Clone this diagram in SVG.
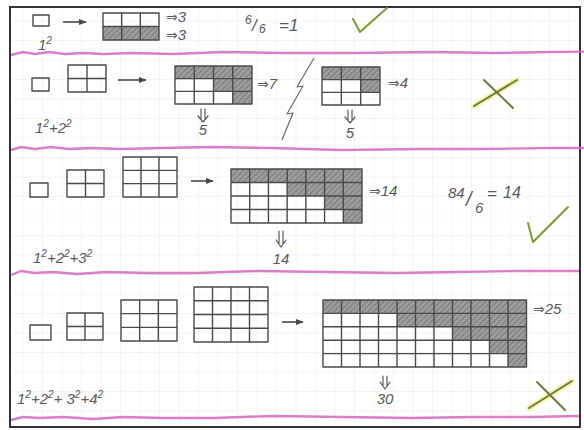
<svg xmlns="http://www.w3.org/2000/svg" width="584" height="430" viewBox="0 0 584 430">
<style>
.t{font-family:"Liberation Sans","DejaVu Sans",sans-serif;font-style:italic;fill:#5a5a5a;font-size:15px}
.a{font-family:"DejaVu Sans",sans-serif;fill:#5a5a5a;font-size:14px}
.sup{font-size:10px}
.g{fill:none;stroke:#4a4a4a;stroke-width:1.4;stroke-linejoin:round}
.sh{fill:url(#hatch)}
.pink{fill:none;stroke:#d468bd;stroke-width:2.4;stroke-opacity:0.85;stroke-linejoin:round}
.ok{fill:none;stroke:#7f9d2e;stroke-width:2;stroke-linecap:round;stroke-linejoin:round}
.glow{fill:none;stroke:#eef08a;stroke-width:6;stroke-linecap:round;stroke-opacity:0.7}
.no{fill:none;stroke:#6f7a3a;stroke-width:2;stroke-linecap:round}
.conn{fill:none;stroke:#4a4a4a;stroke-width:1.6}
.dd{fill:none;stroke:#5a5a5a;stroke-width:1.2;stroke-linecap:round;stroke-linejoin:round}
</style>
<defs>
<pattern id="hatch" patternUnits="userSpaceOnUse" width="4" height="4" patternTransform="rotate(45)">
<rect width="4" height="4" fill="#9c9c9c"/>
<line x1="0" y1="0" x2="0" y2="4" stroke="#6a6a6a" stroke-width="1.3"/>
</pattern>
<pattern id="paper" patternUnits="userSpaceOnUse" width="19.5" height="19.5" x="4" y="2">
<path d="M19.5 0V19.5M0 19.5H19.5" fill="none" stroke="#e4e4ea" stroke-width="0.8"/>
</pattern>
<marker id="ah" viewBox="0 0 10 10" refX="9" refY="5" markerWidth="5" markerHeight="5" orient="auto" markerUnits="strokeWidth">
<path d="M0 1L10 5L0 9Z" fill="#4a4a4a"/>
</marker>
</defs>
<rect width="584" height="430" fill="#ffffff"/>
<rect x="10" y="7" width="570" height="420" fill="#ffffff"/>
<rect x="10" y="7" width="570" height="420" fill="url(#paper)"/>
<rect x="10" y="7" width="570" height="420" fill="none" stroke="#333" stroke-width="2"/>
<g id="dividers">
<path class="pink" d="M11 55l12-3 12 2 14-2 16 2 18-1 20 1 30-1 40 1 50-2 60 1 70 0 80-1 60 1 60-1 76-1"/>
<path class="pink" d="M11 150l10-3 14 2 16-2 18 2 22-1 30 1 40-1 50-1 60 1 70 2 80-1 60 0 70-1 68 0"/>
<path class="pink" d="M11 275l10-4 14 2 18-1 24 2 30-2 40 1 50 0 60-2 70 1 70 1 60-1 60-1 62 0"/>
<path class="pink" d="M11 420l12-3 16 1 24-1 30 2 30-2 40 1 50 0 60-2 70 1 70 1 60-1 60 0 46-1"/>
</g>
<g id="panel1">
<rect id="p1-sq" class="g" x="33" y="15" width="16" height="11"/>
<g id="p1-grid"><rect class="sh" x="103" y="26.5" width="56" height="13.5"/><path class="g" d="M103 13H159V40H103ZM121.7 13V40M140.3 13V40M103 26.5H159"/></g>
<text class="t" x="38" y="50">1<tspan class="sup" dy="-6">2</tspan></text>
<text class="a" x="166" y="22">⇒<tspan class="t" font-size="13">3</tspan></text>
<text class="a" x="166" y="40">⇒<tspan class="t" font-size="13">3</tspan></text>
<text class="t"><tspan x="245" y="24" font-size="12">6</tspan><tspan x="252" y="31" font-size="17">/</tspan><tspan x="259" y="33" font-size="12">6</tspan><tspan x="279" y="31" font-size="17">=1</tspan></text>
<path class="ok" d="M353 19L360 32L387 8"/>
</g>
<g id="panel2">
<rect id="p2-sq" class="g" x="32" y="78" width="17" height="13"/>
<path id="p2-g2" class="g" d="M68 65H106V92H68ZM87 65V92M68 78.5H106"/>
<g id="p2-g4x3"><rect class="sh" x="175" y="66" width="77" height="12.67"/><rect class="sh" x="213.5" y="78.67" width="38.5" height="12.67"/><rect class="sh" x="232.75" y="91.33" width="19.25" height="12.67"/><path class="g" d="M175 66H252V104H175ZM194.25 66V104M213.5 66V104M232.75 66V104M175 78.67H252M175 91.33H252"/></g>
<text class="a" x="257" y="89">⇒<tspan class="t" font-size="16">7</tspan></text>
<path class="dd" d="M201 109V119M205 109V119M198 116L203 122L208 116"/>
<text class="t" x="203" y="135" text-anchor="middle">5</text>
<path id="p2-bolt" d="M314 58L297 87L303 86L287 114L293 113L282 140" fill="none" stroke="#6a6a6a" stroke-width="1.2" stroke-linejoin="round"/>
<g id="p2-g3x3"><rect class="sh" x="322" y="67" width="58" height="12.67"/><rect class="sh" x="360.67" y="79.67" width="19.33" height="12.67"/><path class="g" d="M322 67H380V105H322ZM341.33 67V105M360.67 67V105M322 79.67H380M322 92.33H380"/></g>
<text class="a" x="388" y="88">⇒<tspan class="t" font-size="16">4</tspan></text>
<path class="dd" d="M348 110V120M352 110V120M345 117L350 123L355 117"/>
<text class="t" x="350" y="138" text-anchor="middle">5</text>
<path class="glow" d="M474 106L517 80"/>
<path class="no" d="M474 106L517 80M484 80L513 108"/>
<text class="t" x="35" y="133">1<tspan class="sup" dy="-6">2</tspan><tspan dy="6">+2</tspan><tspan class="sup" dy="-6">2</tspan></text>
</g>
<g id="panel3">
<rect id="p3-sq" class="g" x="30" y="183" width="18" height="14"/>
<path id="p3-g2" class="g" d="M67 170H104V197H67ZM85.5 170V197M67 183.5H104"/>
<path id="p3-g3" class="g" d="M123 157H177V197H123ZM141 157V197M159 157V197M123 170.33H177M123 183.67H177"/>
<g id="p3-g7x4"><rect class="sh" x="231" y="169" width="131" height="13.5"/><rect class="sh" x="287.14" y="182.5" width="74.86" height="13.5"/><rect class="sh" x="324.57" y="196" width="37.43" height="13.5"/><rect class="sh" x="343.29" y="209.5" width="18.71" height="13.5"/><path class="g" d="M231 169H362V223H231ZM249.71 169V223M268.43 169V223M287.14 169V223M305.86 169V223M324.57 169V223M343.29 169V223M231 182.5H362M231 196H362M231 209.5H362"/></g>
<text class="a" x="369" y="196">⇒<tspan class="t" font-size="16">14</tspan></text>
<text class="t"><tspan x="448" y="198" font-size="15">84</tspan><tspan x="466" y="206" font-size="20">/</tspan><tspan x="475" y="213" font-size="15">6</tspan><tspan x="487" y="199" font-size="17">=</tspan><tspan x="503" y="198" font-size="16">14</tspan></text>
<path class="dd" d="M279 231V243M283 231V243M276 240L281 247L286 240"/>
<text class="t" x="281" y="264" text-anchor="middle">14</text>
<path class="ok" d="M528 223L533 242L568 207"/>
<text class="t" x="33" y="263">1<tspan class="sup" dy="-6">2</tspan><tspan dy="6">+2</tspan><tspan class="sup" dy="-6">2</tspan><tspan dy="6">+3</tspan><tspan class="sup" dy="-6">2</tspan></text>
</g>
<g id="panel4">
<rect id="p4-sq" class="g" x="30" y="325" width="21" height="15"/>
<path id="p4-g2" class="g" d="M67 313H103V340H67ZM85 313V340M67 326.5H103"/>
<path id="p4-g3" class="g" d="M121 300H177V341H121ZM139.67 300V341M158.33 300V341M121 313.67H177M121 327.33H177"/>
<path id="p4-g4" class="g" d="M194 287H268V342H194ZM212.5 287V342M231 287V342M249.5 287V342M194 300.75H268M194 314.5H268M194 328.25H268"/>
<g id="p4-g11x5"><rect class="sh" x="323" y="300" width="203.5" height="13.4"/><rect class="sh" x="397" y="313.4" width="129.5" height="13.4"/><rect class="sh" x="452.5" y="326.8" width="74" height="13.4"/><rect class="sh" x="489.5" y="340.2" width="37" height="13.4"/><rect class="sh" x="508" y="353.6" width="18.5" height="13.4"/><path class="g" d="M323 300H526.5V367H323ZM341.5 300V367M360 300V367M378.5 300V367M397 300V367M415.5 300V367M434 300V367M452.5 300V367M471 300V367M489.5 300V367M508 300V367M323 313.4H526.5M323 326.8H526.5M323 340.2H526.5M323 353.6H526.5"/></g>
<text class="a" x="533" y="314">⇒<tspan class="t" font-size="15">25</tspan></text>
<path class="dd" d="M383 376V385M387 376V385M380 382L385 389L390 382"/>
<text class="t" x="385" y="404" text-anchor="middle">30</text>
<path class="glow" d="M529 408L572 381"/>
<path class="no" d="M529 408L572 381M537 382L565 410"/>
<text class="t" x="17" y="404">1<tspan class="sup" dy="-6">2</tspan><tspan dy="6">+2</tspan><tspan class="sup" dy="-6">2</tspan><tspan dy="6">+ 3</tspan><tspan class="sup" dy="-6">2</tspan><tspan dy="6">+4</tspan><tspan class="sup" dy="-6">2</tspan></text>
</g>
<g id="connectors">
<path class="conn" d="M63 22H86" marker-end="url(#ah)"/>
<path class="conn" d="M118 80H146" marker-end="url(#ah)"/>
<path class="conn" d="M191 181H213" marker-end="url(#ah)"/>
<path class="conn" d="M282 322H303" marker-end="url(#ah)"/>
</g>
</svg>
